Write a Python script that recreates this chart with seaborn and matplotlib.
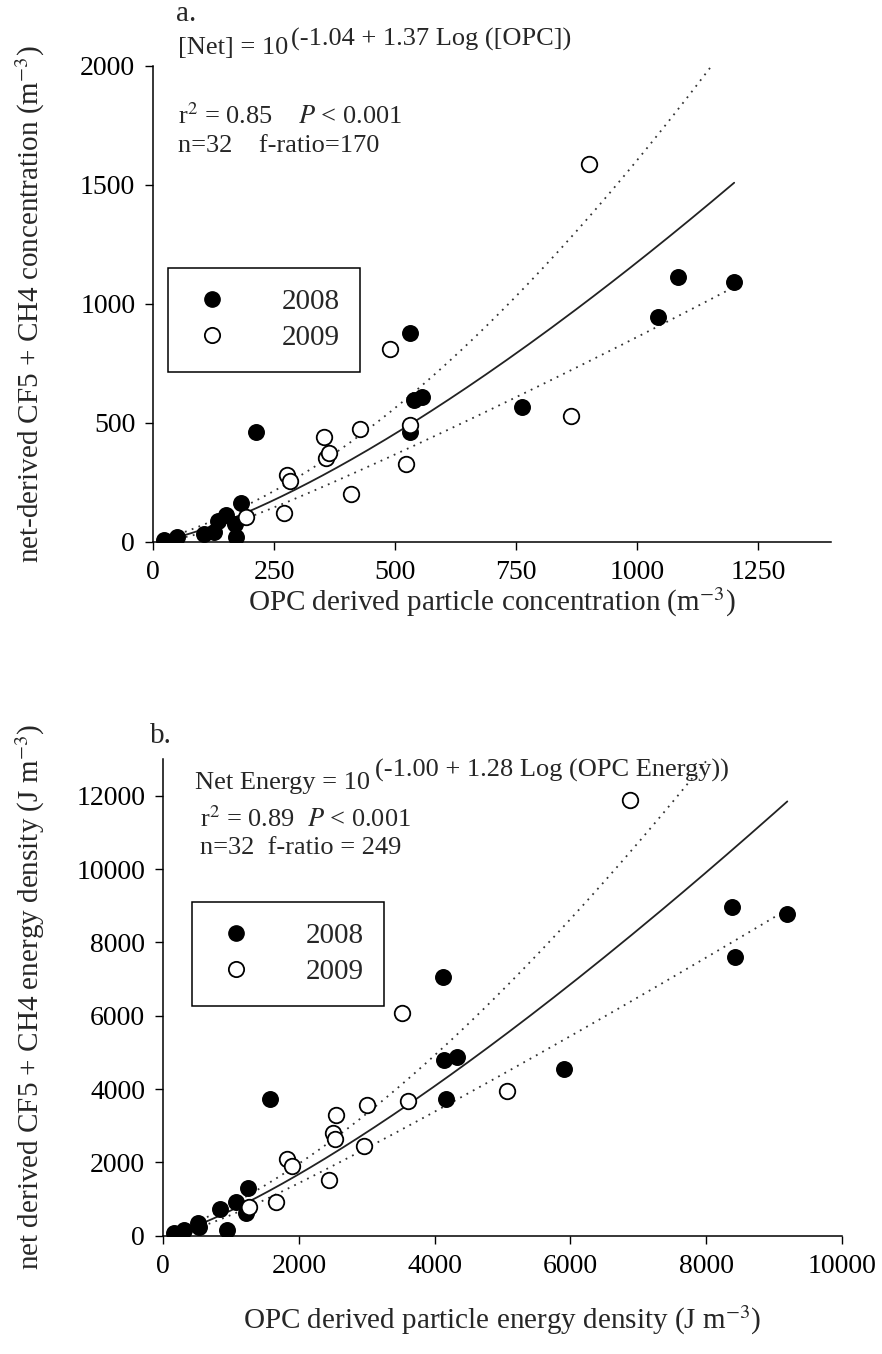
import numpy as np
import matplotlib
matplotlib.use("Agg")
import matplotlib.pyplot as plt
import seaborn as sns
from matplotlib.lines import Line2D

# ---------------- data ----------------
# Panel a: particle concentration (m^-3)
a_opc_2008 = [23, 49, 104, 126, 133, 151, 168, 171, 181, 212, 531, 538, 555, 531, 762, 1042, 1084, 1200]
a_net_2008 = [7, 18, 32, 39, 88, 112, 74, 18, 161, 459, 459, 595, 606, 877, 566, 943, 1113, 1090]
a_opc_2009 = [191, 269, 276, 283, 353, 357, 362, 408, 426, 488, 522, 531, 862, 901]
a_net_2009 = [102, 122, 280, 253, 438, 352, 373, 200, 473, 811, 326, 490, 527, 1587]
a_intercept, a_slope = -1.04, 1.37

# Panel b: energy density (J m^-3)
b_opc_2008 = [158, 305, 516, 531, 836, 943, 1071, 1219, 1248, 1573, 4127, 4137, 4167, 4324, 5906, 8386, 8430, 9197]
b_net_2008 = [65, 155, 355, 245, 728, 155, 910, 628, 1310, 3720, 7047, 4783, 3720, 4882, 4554, 8955, 7592, 8765]
b_opc_2009 = [1263, 1661, 1828, 1892, 2442, 2497, 2535, 2541, 2963, 2998, 3523, 3611, 5070, 6879]
b_net_2009 = [774, 910, 2100, 1900, 1519, 2792, 2637, 3292, 2446, 3564, 6082, 3682, 3938, 11882]
b_intercept, b_slope = -1.00, 1.28

a_xticks = [0, 250, 500, 750, 1000, 1250]
a_yticks = [0, 500, 1000, 1500, 2000]
b_xticks = [0, 2000, 4000, 6000, 8000, 10000]
b_yticks = [0, 2000, 4000, 6000, 8000, 10000, 12000]

# ---------------- style ----------------
sns.set_theme(style="ticks")
plt.rcParams["font.family"] = ["Liberation Serif", "DejaVu Serif"]
plt.rcParams["mathtext.fontset"] = "stix"

W, H = 882, 1354
fig = plt.figure(figsize=(W / 100, H / 100), dpi=100)


def px(x, y):
    return x / W, 1 - y / H


def fit_and_band(x_all, y_all, b0, b1, n_pts=200):
    lx = np.log10(np.asarray(x_all, float))
    ly = np.log10(np.asarray(y_all, float))
    n = len(lx)
    resid = ly - (b0 + b1 * lx)
    s = np.sqrt(np.sum(resid ** 2) / (n - 2))
    sxx = np.sum((lx - lx.mean()) ** 2)
    xs = np.linspace(lx.min(), lx.max(), n_pts)
    fit = b0 + b1 * xs
    half = 2.042 * s * np.sqrt(1.0 / n + (xs - lx.mean()) ** 2 / sxx)
    return 10 ** xs, 10 ** fit, 10 ** (fit - half), 10 ** (fit + half)


def panel(rect, x08, y08, x09, y09, b0, b1, xlim, ylim, xticks, yticks):
    ax = fig.add_axes(rect)
    xs, fit, lo, hi = fit_and_band(x08 + x09, y08 + y09, b0, b1)
    sns.lineplot(x=xs, y=fit, ax=ax, color="#222222", lw=1.3, sort=False)
    sns.lineplot(x=xs, y=lo, ax=ax, color="#333333", lw=1.3, ls=(0, (1, 3)), sort=False)
    sns.lineplot(x=xs, y=hi, ax=ax, color="#333333", lw=1.3, ls=(0, (1, 3)), sort=False)
    sns.scatterplot(x=x08, y=y08, ax=ax, color="black", edgecolor="black",
                    s=125, linewidth=1.0, zorder=3)
    sns.scatterplot(x=x09, y=y09, ax=ax, color="white", edgecolor="black",
                    s=125, linewidth=1.3, zorder=3)
    ax.set_xlim(*xlim)
    ax.set_ylim(*ylim)
    ax.set_xticks(xticks)
    ax.set_yticks(yticks)
    ax.tick_params(direction="out", length=6, width=1.0, labelsize=20,
                   colors="black", pad=7)
    for sp in ["top", "right"]:
        ax.spines[sp].set_visible(False)
    for sp in ["left", "bottom"]:
        ax.spines[sp].set_color("black")
        ax.spines[sp].set_linewidth(1.1)
    ax.grid(False)
    return ax


# axes rects from pixel geometry
ax_a = panel([153.3 / W, 1 - 541.7 / H, 677.7 / W, 476 / H],
             a_opc_2008, a_net_2008, a_opc_2009, a_net_2009,
             a_intercept, a_slope, (0, 1400), (0, 2000), a_xticks, a_yticks)
ax_b = panel([163.3 / W, 1 - 1235.7 / H, 678.5 / W, 476.7 / H],
             b_opc_2008, b_net_2008, b_opc_2009, b_net_2009,
             b_intercept, b_slope, (0, 10000), (0, 13000), b_xticks, b_yticks)

# axis labels
ax_a.set_xlabel(r"OPC derived particle concentration (m$^{-3}$)", fontsize=21, va="center")
ax_a.xaxis.set_label_coords(0.5, (541.7 - 602) / 476)
ax_a.set_ylabel(r"net-derived CF5 + CH4 concentration (m$^{-3}$)", fontsize=21, va="center")
ax_a.yaxis.set_label_coords((30 - 153.3) / 677.7, 0.5)

ax_b.set_xlabel(r"OPC derived particle energy density (J m$^{-3}$)", fontsize=21, va="center")
ax_b.xaxis.set_label_coords(0.5, (1235.7 - 1320) / 476.7)
ax_b.set_ylabel(r"net derived CF5 + CH4 energy density (J m$^{-3}$)", fontsize=21, va="center")
ax_b.yaxis.set_label_coords((30 - 163.3) / 678.5, 0.5)

# panel letters
fig.text(*px(176, 14), "a.", fontsize=21, va="center", ha="left")
fig.text(*px(150, 736), "b.", fontsize=21, va="center", ha="left")

# equations panel a
fs = 19
fig.text(*px(178, 48), "[Net] = 10", fontsize=fs, va="center", ha="left")
fig.text(*px(291, 39), "(-1.04 + 1.37 Log ([OPC])", fontsize=fs, va="center", ha="left")
fig.text(*px(178, 116), r"r$^{2}$ = 0.85    $P$ < 0.001", fontsize=fs, va="center", ha="left")
fig.text(*px(178, 146), "n=32    f-ratio=170", fontsize=fs, va="center", ha="left")

# equations panel b
fig.text(*px(195, 783), "Net Energy = 10", fontsize=fs, va="center", ha="left")
fig.text(*px(375, 770), "(-1.00 + 1.28 Log (OPC Energy))", fontsize=fs, va="center", ha="left")
fig.text(*px(200, 819), r"r$^{2}$ = 0.89  $P$ < 0.001", fontsize=fs, va="center", ha="left")
fig.text(*px(200, 848), "n=32  f-ratio = 249", fontsize=fs, va="center", ha="left")

# legends
handles = [
    Line2D([], [], ls="none", marker="o", markersize=11, mfc="black", mec="black", label="2008"),
    Line2D([], [], ls="none", marker="o", markersize=11, mfc="white", mec="black", mew=1.3, label="2009"),
]
for ax, (lx, ly) in [(ax_a, (168, 268)), (ax_b, (192, 902))]:
    fx, fy = px(lx, ly)
    leg = ax.legend(handles=handles, loc="upper left", bbox_to_anchor=(fx, fy),
                    bbox_transform=fig.transFigure, fontsize=21, frameon=True,
                    fancybox=False, edgecolor="black", framealpha=1,
                    borderpad=0.7, handletextpad=1.6, labelspacing=0.35,
                    handlelength=1.6, borderaxespad=0)
    leg.get_frame().set_linewidth(1.1)

fig.savefig("out.png", dpi=100)
